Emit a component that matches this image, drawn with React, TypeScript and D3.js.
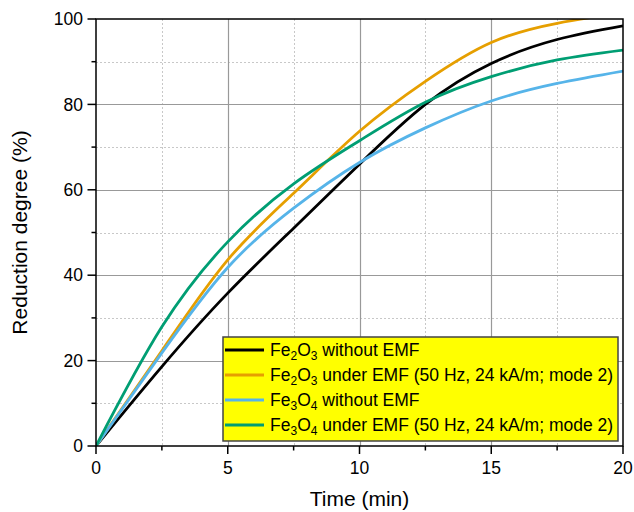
import React from "react";
import * as d3 from "d3";

const times = [0, 2.5, 5, 7.5, 10, 12.5, 15, 17.5, 20];
const fe2o3NoEmf = [0, 18.6, 35.8, 51.0, 66.0, 80.0, 89.6, 95.2, 98.4];
const fe2o3Emf = [0, 22.3, 43.6, 59.2, 73.7, 85.4, 94.5, 99.0, 101.5];
const fe3o4NoEmf = [0, 21.8, 41.8, 55.7, 66.4, 74.5, 80.8, 84.9, 87.8];
const fe3o4Emf = [0, 27.9, 47.8, 61.4, 71.5, 80.5, 86.5, 90.4, 92.7];

const seriesNames = [
  { base: "Fe", sub1: "2", mid: "O", sub2: "3", rest: " without EMF" },
  { base: "Fe", sub1: "2", mid: "O", sub2: "3", rest: " under EMF (50 Hz, 24 kA/m; mode 2)" },
  { base: "Fe", sub1: "3", mid: "O", sub2: "4", rest: " without EMF" },
  { base: "Fe", sub1: "3", mid: "O", sub2: "4", rest: " under EMF (50 Hz, 24 kA/m; mode 2)" },
];
const seriesColors = ["#000000", "#E69F00", "#56B4E9", "#009E73"];
const seriesValues = [fe2o3NoEmf, fe2o3Emf, fe3o4NoEmf, fe3o4Emf];

const xMajor = [0, 5, 10, 15, 20];
const xMinor = [2.5, 7.5, 12.5, 17.5];
const yMajor = [0, 20, 40, 60, 80, 100];
const yMinor = [10, 30, 50, 70, 90];

const W = 634;
const H = 512;
const L = 96;
const R = 623;
const T = 19;
const B = 446;
const FONT = "Arial, 'Liberation Sans', Helvetica, sans-serif";

export default function App() {
  const x = d3.scaleLinear().domain([0, 20]).range([L, R]);
  const y = d3.scaleLinear().domain([0, 100]).range([B, T]);
  const line = d3
    .line<number>()
    .x((_, i) => x(times[i]))
    .y((v) => y(v))
    .curve(d3.curveNatural);

  const legX = 223;
  const legY = 337;
  const legW = 395;
  const legH = 104;
  const rowH = 25;

  return (
    <svg
      width={W}
      height={H}
      style={{ position: "absolute", left: 0, top: 0, background: "#fff" }}
      fontFamily={FONT}
    >
      <defs>
        <clipPath id="plotClip">
          <rect x={L} y={T} width={R - L} height={B - T} />
        </clipPath>
      </defs>
      {xMinor.map((v) => (
        <line key={"xm" + v} x1={Math.round(x(v)) + 0.5} x2={Math.round(x(v)) + 0.5} y1={T} y2={B}
          stroke="#c8c8c8" strokeWidth={1} strokeDasharray="2,2" />
      ))}
      {yMinor.map((v) => (
        <line key={"ym" + v} y1={Math.round(y(v)) + 0.5} y2={Math.round(y(v)) + 0.5} x1={L} x2={R}
          stroke="#c8c8c8" strokeWidth={1} strokeDasharray="2,2" />
      ))}
      {xMajor.slice(1, -1).map((v) => (
        <line key={"xM" + v} x1={Math.round(x(v)) + 0.5} x2={Math.round(x(v)) + 0.5} y1={T} y2={B}
          stroke="#999" strokeWidth={1.2} />
      ))}
      {yMajor.slice(1, -1).map((v) => (
        <line key={"yM" + v} y1={Math.round(y(v)) + 0.5} y2={Math.round(y(v)) + 0.5} x1={L} x2={R}
          stroke="#999" strokeWidth={1.2} />
      ))}

      <g clipPath="url(#plotClip)">
        {seriesValues.map((vals, i) => (
          <path key={i} d={line(vals) || ""} fill="none" stroke={seriesColors[i]}
            strokeWidth={2.8} strokeLinejoin="round" />
        ))}
      </g>

      <rect x={L} y={T} width={R - L} height={B - T} fill="none" stroke="#000" strokeWidth={1.5} />

      {xMajor.map((v) => (
        <g key={"xt" + v}>
          <line x1={x(v)} x2={x(v)} y1={B} y2={B + 8} stroke="#000" strokeWidth={1.5} />
          <text x={x(v)} y={B + 28} textAnchor="middle" fontSize={17.5} fill="#000">{v}</text>
        </g>
      ))}
      {xMinor.map((v) => (
        <line key={"xmt" + v} x1={x(v)} x2={x(v)} y1={B} y2={B + 4.5} stroke="#000" strokeWidth={1.5} />
      ))}
      {yMajor.map((v) => (
        <g key={"yt" + v}>
          <line x1={L - 8.5} x2={L} y1={y(v)} y2={y(v)} stroke="#000" strokeWidth={1.5} />
          <text x={L - 13} y={y(v)} dy="0.35em" textAnchor="end" fontSize={17.5} fill="#000">{v}</text>
        </g>
      ))}
      {yMinor.map((v) => (
        <line key={"ymt" + v} x1={L - 4.5} x2={L} y1={y(v)} y2={y(v)} stroke="#000" strokeWidth={1.5} />
      ))}

      <text x={(L + R) / 2} y={506} textAnchor="middle" fontSize={21} fill="#000">Time (min)</text>
      <text transform={`translate(27, ${(T + B) / 2}) rotate(-90)`} textAnchor="middle" fontSize={21} fill="#000">
        Reduction degree (%)
      </text>

      <rect x={legX} y={legY} width={legW} height={legH} fill="#ffff00" stroke="#444" strokeWidth={1.5} />
      {seriesNames.map((s, i) => {
        const cy = legY + 13 + i * rowH;
        return (
          <g key={"lg" + i}>
            <line x1={legX + 2} x2={legX + 41} y1={cy} y2={cy} stroke={seriesColors[i]} strokeWidth={3} />
            <text x={legX + 47} y={cy + 6} fontSize={17.5} fill="#000">
              <tspan>{s.base}</tspan>
              <tspan fontSize={12} dy={4}>{s.sub1}</tspan>
              <tspan dy={-4}>{s.mid}</tspan>
              <tspan fontSize={12} dy={4}>{s.sub2}</tspan>
              <tspan dy={-4}>{s.rest}</tspan>
            </text>
          </g>
        );
      })}
    </svg>
  );
}
